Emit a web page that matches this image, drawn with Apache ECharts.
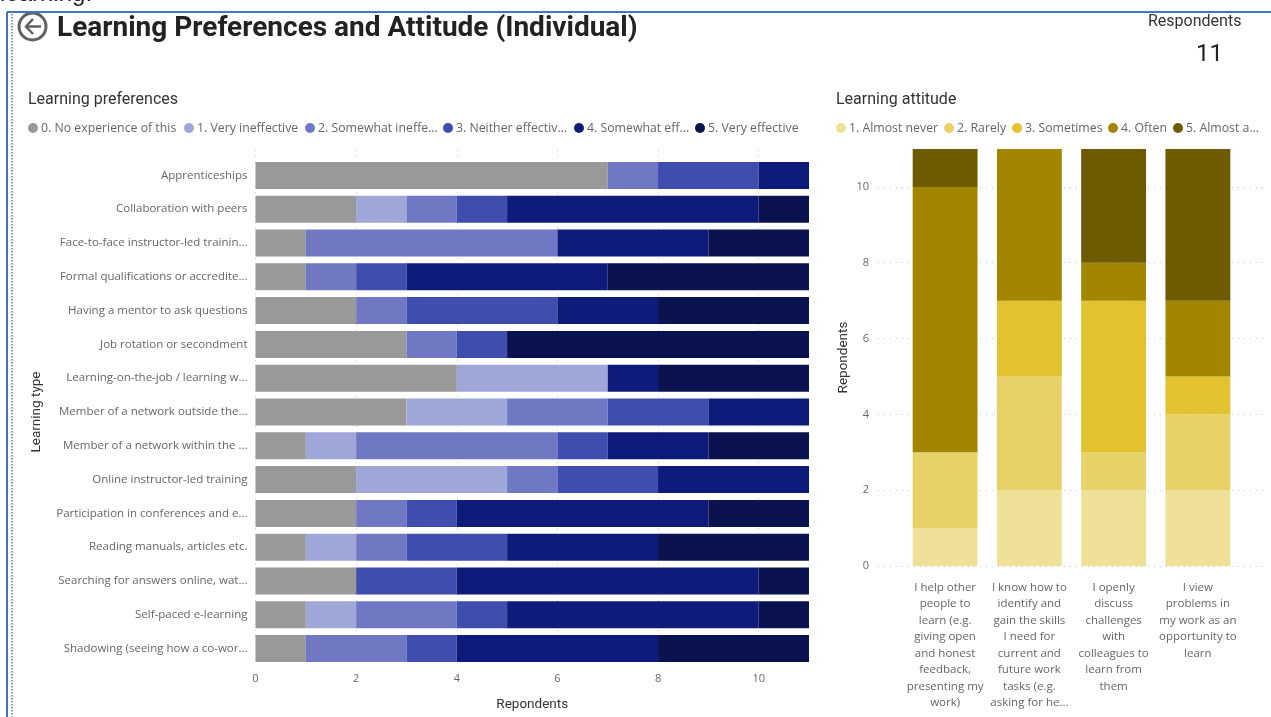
<!DOCTYPE html>
<html><head><meta charset="utf-8">
<style>html,body{margin:0;padding:0;background:#fff}#c{width:1271px;height:717px}</style>
<script src="https://cdn.jsdelivr.net/npm/echarts@6/dist/echarts.min.js"></script>
</head><body><div id="c"></div>
<script>
const prefCategories = ["Apprenticeships","Collaboration with peers","Face-to-face instructor-led trainin...","Formal qualifications or accredite...","Having a mentor to ask questions","Job rotation or secondment","Learning-on-the-job / learning w...","Member of a network outside the...","Member of a network within the ...","Online instructor-led training","Participation in conferences and e...","Reading manuals, articles etc.","Searching for answers online, wat...","Self-paced e-learning","Shadowing (seeing how a co-wor..."];
const prefNames = ["0. No experience of this","1. Very ineffective","2. Somewhat ineffective","3. Neither effective nor ineffective","4. Somewhat effective","5. Very effective"];
const prefLegendText = ["0. No experience of this","1. Very ineffective","2. Somewhat ineffe...","3. Neither effectiv...","4. Somewhat eff...","5. Very effective"];
const prefLegendLeft = [28,184,305,443,574,695];
const prefColors = ["#999999","#9FA6D8","#7078C4","#3F4EAE","#0F1B7A","#0A1250"];
const prefNone = [7,2,1,1,2,3,4,3,1,2,2,1,2,1,1];
const prefV1 = [0,1,0,0,0,0,3,2,1,3,0,1,0,1,0];
const prefV2 = [1,1,5,1,1,1,0,2,4,1,1,1,0,2,2];
const prefV3 = [2,1,0,1,3,1,0,2,1,2,1,2,2,1,1];
const prefV4 = [1,5,3,4,2,0,1,2,2,3,5,3,6,5,4];
const prefV5 = [0,1,2,4,3,6,3,0,2,0,2,3,1,1,3];
const prefValues = [prefNone,prefV1,prefV2,prefV3,prefV4,prefV5];

const attCategories = ["I help other\npeople to\nlearn (e.g.\ngiving open\nand honest\nfeedback,\npresenting my\nwork)","I know how to\nidentify and\ngain the skills\nI need for\ncurrent and\nfuture work\ntasks (e.g.\nasking for he...","I openly\ndiscuss\nchallenges\nwith\ncolleagues to\nlearn from\nthem","I view\nproblems in\nmy work as an\nopportunity to\nlearn"];
const attNames = ["1. Almost never","2. Rarely","3. Sometimes","4. Often","5. Almost always"];
const attLegendText = ["1. Almost never","2. Rarely","3. Sometimes","4. Often","5. Almost a..."];
const attLegendLeft = [836,944,1012,1108,1173];
const attColors = ["#EFE098","#E8D268","#E2C22F","#A38600","#6E5A00"];
const att1 = [1,2,2,2];
const att2 = [2,3,1,2];
const att3 = [0,2,4,1];
const att4 = [7,4,1,2];
const att5 = [1,0,3,4];
const attValues = [att1,att2,att3,att4,att5];

const font = "Open Sans";
const grey = "#666666";
const dark = "#333333";
const dotted = {show:true,lineStyle:{color:"#C8C8C8",type:[1,5],width:1}};
const hiddenAxisBits = {axisLine:{show:false},axisTick:{show:false}};
const nameStyle = {color:dark,fontSize:13.5,fontWeight:400,fontFamily:"Roboto"};

const legendMap = {};
prefNames.forEach((n,i)=>legendMap[n]=prefLegendText[i]);
attNames.forEach((n,i)=>legendMap[n]=attLegendText[i]);
const oneLegend = (name,left)=>({data:[name],left,top:122,itemWidth:10,itemHeight:10,icon:"circle",padding:0,
  textStyle:{color:grey,fontSize:12.3,padding:[0,0,0,-2]},formatter:n=>legendMap[n]});

const chart = echarts.init(document.getElementById("c"),null,{renderer:"canvas"});
chart.setOption({
  animation:false,
  backgroundColor:"#ffffff",
  textStyle:{fontFamily:font},
  grid:[
    {left:255.5,width:553.5,top:150,height:522},
    {left:255.5,width:553.5,top:158.5,height:507},
    {left:878,width:388,top:149,height:417},
    {left:903,width:337,top:149,height:417}
  ],
  xAxis:[
    {gridIndex:0,type:"value",min:0,max:11,interval:2,...hiddenAxisBits,splitLine:{...dotted,showMaxLine:false},
     axisLabel:{color:grey,fontSize:11,margin:9,showMaxLabel:false},
     name:"Repondents",nameLocation:"middle",nameGap:34,nameMoveOverlap:false,nameTextStyle:nameStyle},
    {gridIndex:1,type:"value",min:0,max:11,show:false},
    {gridIndex:2,type:"category",data:attCategories,show:false},
    {gridIndex:3,type:"category",data:attCategories,...hiddenAxisBits,
     axisLabel:{color:grey,fontSize:11.5,lineHeight:16.5,margin:13,interval:0,width:84}}
  ],
  yAxis:[
    {gridIndex:0,type:"category",data:prefCategories,show:false,inverse:true},
    {gridIndex:1,type:"category",data:prefCategories,inverse:true,...hiddenAxisBits,
     axisLabel:{color:grey,fontSize:11.5,margin:8,interval:0},
     name:"Learning type",nameLocation:"middle",nameGap:212,nameTextStyle:nameStyle},
    {gridIndex:2,type:"value",min:0,max:11,interval:2,...hiddenAxisBits,splitLine:{...dotted,showMaxLine:false},
     axisLabel:{color:grey,fontSize:11,margin:9,showMaxLabel:false},
     name:"Repondents",nameLocation:"middle",nameGap:27,nameTextStyle:nameStyle},
    {gridIndex:3,type:"value",min:0,max:11,show:false}
  ],
  legend:[
    ...prefNames.map((n,i)=>oneLegend(n,prefLegendLeft[i])),
    ...attNames.map((n,i)=>oneLegend(n,attLegendLeft[i]))
  ],
  series:[
    ...prefNames.map((n,i)=>({name:n,type:"bar",stack:"prefs",xAxisIndex:1,yAxisIndex:1,data:prefValues[i],barWidth:"80%",itemStyle:{color:prefColors[i]}})),
    ...attNames.map((n,i)=>({name:n,type:"bar",stack:"att",xAxisIndex:3,yAxisIndex:3,data:attValues[i],barWidth:"77%",itemStyle:{color:attColors[i]}}))
  ],
  graphic:[
    {type:"text",x:0,y:-18,style:{text:"learning.",font:"24px 'Liberation Sans'",fill:"#222"}},
    {type:"circle",shape:{cx:32.5,cy:26.5,r:13.5},style:{stroke:"#606060",fill:"none",lineWidth:3}},
    {type:"polyline",shape:{points:[[33,19],[26,26.5],[33,34]]},style:{stroke:"#606060",fill:"none",lineWidth:2.5}},
    {type:"line",shape:{x1:26,y1:26.5,x2:41,y2:26.5},style:{stroke:"#606060",lineWidth:2.5}},
    {type:"line",shape:{x1:7,y1:12,x2:1271,y2:12},style:{stroke:"#4472C4",lineWidth:2}},
    {type:"line",shape:{x1:7,y1:12,x2:7,y2:717},style:{stroke:"#4472C4",lineWidth:2}},
    {type:"line",shape:{x1:12,y1:14,x2:12,y2:717},style:{stroke:"#777",lineWidth:1.5,lineDash:[1.5,1.5]}},
    {type:"text",x:57,y:14.5,style:{text:"Learning Preferences and Attitude (Individual)",font:"bold 28px Roboto",fill:"#222"}},
    {type:"text",x:28,y:91.5,style:{text:"Learning preferences",font:"16px Roboto",fill:"#333",letterSpacing:1}},
    {type:"text",x:836,y:91.5,style:{text:"Learning attitude",font:"16px Roboto",fill:"#333",letterSpacing:1}},
    {type:"text",x:1148,y:14,style:{text:"Respondents",font:"16px Roboto",fill:"#333",letterSpacing:1}},
    {type:"text",x:1196,y:43,style:{text:"11",font:"24px Roboto",fill:"#222",letterSpacing:2}}
  ]
});
</script></body></html>
